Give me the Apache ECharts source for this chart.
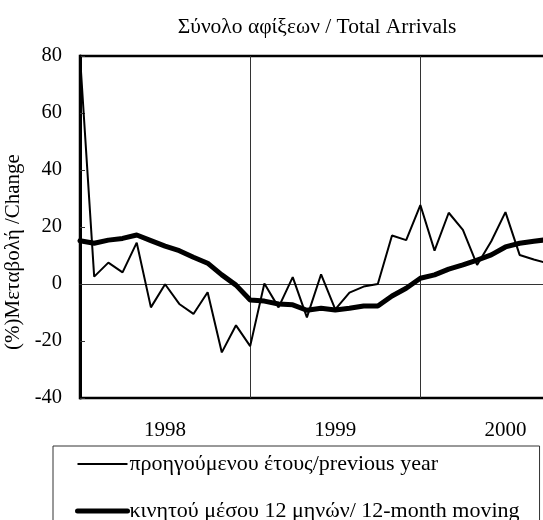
<!DOCTYPE html>
<html>
<head>
<meta charset="utf-8">
<script src="https://cdn.jsdelivr.net/npm/echarts@6/dist/echarts.min.js"></script>
<style>
	html, body { margin: 0; padding: 0; background: #fff; }
	#chart { width: 543px; height: 520px; }
</style>
</head>
<body>
<div id="chart"></div>
<script>
// monthly, starting Jan 1998
var months = [
	'1998-01','1998-02','1998-03','1998-04','1998-05','1998-06','1998-07','1998-08','1998-09','1998-10','1998-11','1998-12',
	'1999-01','1999-02','1999-03','1999-04','1999-05','1999-06','1999-07','1999-08','1999-09','1999-10','1999-11','1999-12',
	'2000-01','2000-02','2000-03','2000-04','2000-05','2000-06','2000-07','2000-08','2000-09','2000-10'
];
var prevYear = [
	80, 2.6, 7.5, 4.1, 14.5, -8.2, -0.1, -7, -10.5, -2.9, -24, -14.5,
	-21.8, 0.2, -8.2, 2.4, -11.7, 3.4, -8.9, -3.0, -0.9, 0, 17, 15.4,
	27.7, 11.7, 25, 19, 6.7, 15, 25.2, 10.2, 8.6, 7.2
];
var movingAvg = [
	15.2, 14.3, 15.4, 16, 17.2, 15.2, 13.3, 11.7, 9.4, 7.3, 3.2, -0.4,
	-5.6, -6, -7, -7.3, -9.2, -8.5, -9.1, -8.5, -7.7, -7.7, -4.2, -1.5,
	2, 3.2, 5.2, 6.7, 8.4, 10.2, 13, 14.3, 15, 15.6
];
var labelIdx = [6, 18, 30];
var yearLines = [12, 24];
var names = ['προηγούμενου έτους/previous year', 'κινητού μέσου 12 μηνών/ 12-month moving'];

var font = '"Liberation Serif", "Times New Roman", serif';
var chart = echarts.init(document.getElementById('chart'));

chart.setOption({
	animation: false,
	title: {
		text: 'Σύνολο αφίξεων / Total Arrivals',
		left: 312,
		top: 11,
		textAlign: 'center',
		textStyle: { fontFamily: font, fontSize: 21.5, fontWeight: 'normal', color: '#000' }
	},
	legend: {
		orient: 'vertical',
		left: 53,
		top: 446,
		height: 130,
		padding: [7, 20, 30, 22],
		itemWidth: 50,
		itemHeight: 14,
		itemGap: 25,
		borderColor: '#333',
		borderWidth: 1,
		itemStyle: { opacity: 0 },
		textStyle: { fontFamily: font, fontSize: 22, color: '#000', padding: [0, 0, 0, -3] },
		data: [
			{ name: names[0], lineStyle: { width: 2, color: '#000' } },
			{ name: names[1], lineStyle: { width: 5, color: '#000', cap: 'round' } }
		]
	},
	grid: {
		left: 80, top: 56, bottom: 122, right: -5,
		outerBoundsMode: 'none',
		show: true,
		borderColor: '#000',
		borderWidth: 2.5
	},
	xAxis: {
		type: 'category',
		data: months,
		boundaryGap: false,
		axisLine: { onZero: true, lineStyle: { color: '#333', width: 1 } },
		axisTick: { show: false },
		axisLabel: {
			interval: function(idx){ return labelIdx.indexOf(idx) >= 0; },
			formatter: function(v){ return v.slice(0, 4); },
			margin: 22,
			fontFamily: font, fontSize: 21, color: '#000'
		},
		splitLine: {
			show: true,
			interval: function(idx){ return yearLines.indexOf(idx) >= 0; },
			lineStyle: { color: '#333', width: 1 }
		}
	},
	yAxis: {
		type: 'value',
		min: -40, max: 80, interval: 20,
		name: '(%)Μεταβολή /Change',
		nameLocation: 'middle',
		nameGap: 47,
		nameTextStyle: { fontFamily: font, fontSize: 21, color: '#000', padding: [0, 50, 0, 0] },
		axisLine: { show: true, lineStyle: { color: '#000', width: 3 } },
		axisTick: { show: true, inside: true, length: 5, lineStyle: { color: '#333' } },
		axisLabel: { margin: 18, fontFamily: font, fontSize: 20.5, color: '#000' },
		splitLine: { show: false }
	},
	series: [
		{
			name: names[0],
			type: 'line',
			data: prevYear,
			symbol: 'none',
			lineStyle: { color: '#000', width: 2 },
			itemStyle: { color: '#000' }
		},
		{
			name: names[1],
			type: 'line',
			data: movingAvg,
			symbol: 'none',
			lineStyle: { color: '#000', width: 5, cap: 'round', join: 'round' },
			itemStyle: { color: '#000' }
		}
	]
});
</script>
</body>
</html>
